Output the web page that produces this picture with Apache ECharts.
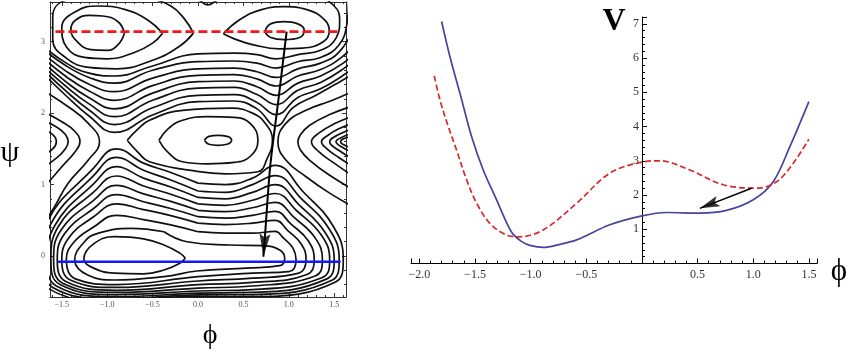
<!DOCTYPE html>
<html><head><meta charset="utf-8">
<script src="https://cdn.jsdelivr.net/npm/echarts@6/dist/echarts.min.js"></script>
<style>html,body{margin:0;padding:0;background:#fff}#c{width:850px;height:354px}</style>
</head><body><div id="c"></div>
<script>
// ---- tick labels ----
const leftPhiTicks = [-1.5, -1.0, -0.5, 0.0, 0.5, 1.0, 1.5];
const leftPsiTicks = [0, 1, 2, 3];
const rightPhiTicks = [-2.0, -1.5, -1.0, -0.5, 0.5, 1.0, 1.5];
const rightVTicks = [1, 2, 3, 4, 5, 6, 7];

// ---- left panel: contour lines [phi, psi] ----
const basinB1 = [[-0.14,-0.03],[-0.2,0.04],[-0.375,0.154],[-0.6,0.24],[-0.92,0.27],[-1.15,0.17],[-1.257,-0.04],[-1.15,-0.17],[-0.92,-0.24],[-0.6,-0.25],[-0.375,-0.196],[-0.2,-0.1],[-0.14,-0.03]];
const basinB2 = [[-0.375,0.34],[-0.12,0.2],[0.353,0.154],[0.718,0.144],[0.9,0.084],[0.955,-0.03],[0.9,-0.135],[0.535,-0.17],[-0.01,-0.21],[-0.375,-0.29],[-0.92,-0.336],[-1.21,-0.27],[-1.358,-0.056],[-1.25,0.2],[-1.104,0.317],[-0.74,0.387],[-0.375,0.34]];
const basinB3 = [[0,0.34],[0.3,0.32],[0.6,0.32],[0.85,0.345],[0.942,0.25],[1.046,0.11],[1.08,-0.05],[1.0,-0.22],[0.6,-0.24],[0,-0.29],[-0.9,-0.40],[-1.35,-0.32],[-1.45,-0.05],[-1.37,0.19],[-1.15,0.405],[-0.9,0.57],[-0.6,0.51],[-0.3,0.435],[0,0.34]];
const basinB4 = [[0,0.46],[0.3,0.44],[0.6,0.46],[0.85,0.50],[0.986,0.36],[1.139,0.165],[1.19,-0.05],[1.11,-0.24],[0.6,-0.31],[0,-0.35],[-0.9,-0.44],[-1.40,-0.34],[-1.50,-0.05],[-1.42,0.26],[-1.15,0.55],[-0.9,0.73],[-0.6,0.65],[-0.3,0.565],[0,0.46]];
const basinB5 = [[0,0.55],[0.3,0.53],[0.6,0.57],[0.85,0.625],[1.022,0.45],[1.216,0.21],[1.28,-0.05],[1.20,-0.26],[0.6,-0.37],[0,-0.40],[-0.9,-0.48],[-1.45,-0.36],[-1.55,-0.05],[-1.47,0.31],[-1.15,0.665],[-0.9,0.86],[-0.6,0.76],[-0.3,0.665],[0,0.55]];
const basinB6 = [[0,0.64],[0.3,0.62],[0.6,0.675],[0.85,0.75],[1.058,0.54],[1.292,0.25],[1.37,-0.05],[1.29,-0.28],[0.6,-0.42],[0,-0.45],[-0.9,-0.51],[-1.49,-0.38],[-1.59,-0.05],[-1.51,0.36],[-1.15,0.78],[-0.9,0.99],[-0.6,0.87],[-0.3,0.765],[0,0.64]];
const basinB7 = [[0,0.73],[0.3,0.71],[0.6,0.78],[0.85,0.875],[1.09,0.63],[1.36,0.29],[1.45,-0.05],[1.37,-0.30],[0.6,-0.47],[0,-0.49],[-0.9,-0.54],[-1.52,-0.40],[-1.62,-0.05],[-1.54,0.41],[-1.15,0.895],[-0.9,1.12],[-0.6,0.98],[-0.3,0.865],[0,0.73]];
const basinB8 = [[0,0.82],[0.3,0.80],[0.6,0.89],[0.85,1.0],[1.11,0.72],[1.40,0.33],[1.50,-0.05],[1.42,-0.32],[0.6,-0.51],[0,-0.52],[-0.9,-0.57],[-1.56,-0.42],[-1.66,-0.05],[-1.58,0.42],[-1.15,1.01],[-0.9,1.25],[-0.6,1.09],[-0.3,0.965],[0,0.82]];
const basinB9 = [[0,0.91],[0.3,0.89],[0.6,1.0],[0.85,1.125],[1.132,0.81],[1.449,0.37],[1.555,-0.05],[1.475,-0.34],[0.6,-0.54],[0,-0.545],[-0.9,-0.60],[-1.60,-0.44],[-1.70,-0.05],[-1.62,0.45],[-1.15,1.125],[-0.9,1.38],[-0.6,1.20],[-0.3,1.065],[0,0.91]];
const basinB10 = [[0,1.02],[0.3,1.0],[0.6,1.09],[0.85,1.27],[1.15,0.91],[1.4875,0.42],[1.60,-0.05],[1.52,-0.36],[0.6,-0.57],[0,-0.565],[-0.9,-0.63],[-1.64,-0.46],[-1.74,-0.05],[-1.66,0.48],[-1.15,1.23],[-0.9,1.50],[-0.6,1.30],[-0.3,1.17],[0,1.02]];

const topT1L = [[-0.81,3.12],[-0.88,3.28],[-1.05,3.36],[-1.2,3.37],[-1.35,3.3],[-1.40,3.17],[-1.33,3.0],[-1.18,2.89],[-1.0,2.88],[-0.88,2.96],[-0.81,3.12]];
const topT2L = [[-0.39,3.12],[-0.55,3.3],[-0.8,3.45],[-1.1,3.50],[-1.35,3.42],[-1.5,3.2],[-1.45,2.93],[-1.25,2.78],[-1.0,2.76],[-0.7,2.85],[-0.5,2.98],[-0.39,3.12]];
const topT3L = [[-0.05,3.12],[-0.15,3.32],[-0.3,3.5],[-0.55,3.6],[-1.0,3.63],[-1.45,3.58],[-1.6,3.35],[-1.6,3.03],[-1.45,2.77],[-1.2,2.64],[-0.9,2.62],[-0.5,2.74],[-0.2,2.94],[-0.05,3.12]];
const topT1R = [[0.735,3.14],[0.8,3.25],[0.95,3.28],[1.1,3.25],[1.17,3.16],[1.12,3.06],[0.95,3.03],[0.8,3.06],[0.735,3.14]];
const topT2R = [[0.28,3.11],[0.45,3.3],[0.7,3.45],[0.95,3.49],[1.2,3.45],[1.4,3.3],[1.446,3.15],[1.38,3.0],[1.15,2.91],[0.9,2.9],[0.6,2.96],[0.4,3.04],[0.28,3.11]];
const topT4 = [[-1.75,2.98],[-1.45,2.70],[-1.2,2.56],[-0.92,2.52],[-0.5,2.66],[0,2.83],[0.4,2.84],[0.65,2.82],[0.86,2.76],[1.1,2.82],[1.35,2.88],[1.52,3.05],[1.56,3.3],[1.5,3.5],[1.3,3.62],[0.6,3.63],[0.22,3.58],[0.11,3.515],[0.0,3.58],[-0.5,3.65]];
const topT5 = [[-1.75,2.94],[-1.45,2.66],[-1.2,2.50],[-0.92,2.42],[-0.5,2.60],[0,2.72],[0.4,2.73],[0.65,2.70],[0.86,2.63],[1.1,2.72],[1.35,2.78],[1.55,2.95],[1.64,3.25],[1.66,3.6]];
const topT6 = [[-1.75,2.88],[-1.45,2.585],[-1.2,2.405],[-0.92,2.30],[-0.5,2.49],[0,2.62],[0.4,2.63],[0.65,2.58],[0.86,2.50],[1.1,2.62],[1.35,2.70],[1.55,2.85],[1.72,3.2]];
const topT7 = [[-1.75,2.82],[-1.45,2.51],[-1.2,2.31],[-0.92,2.18],[-0.5,2.385],[0,2.53],[0.4,2.54],[0.65,2.48],[0.86,2.38],[1.1,2.52],[1.35,2.61],[1.58,2.78],[1.75,3.0]];
const topT8 = [[-1.75,2.76],[-1.45,2.435],[-1.2,2.215],[-0.92,2.06],[-0.5,2.28],[0,2.44],[0.4,2.45],[0.65,2.37],[0.86,2.25],[1.1,2.42],[1.35,2.52],[1.6,2.70],[1.75,2.88]];
const topT9 = [[-1.75,2.71],[-1.45,2.37],[-1.2,2.13],[-0.92,1.95],[-0.5,2.18],[0,2.35],[0.4,2.36],[0.65,2.26],[0.86,2.12],[1.1,2.32],[1.35,2.43],[1.6,2.62],[1.75,2.78]];
const topT10 = [[-1.75,2.66],[-1.45,2.305],[-1.2,2.045],[-0.92,1.84],[-0.5,2.075],[0,2.25],[0.4,2.26],[0.65,2.15],[0.86,1.98],[1.1,2.22],[1.35,2.34],[1.6,2.53],[1.75,2.67]];
const topT11 = [[-1.75,2.61],[-1.45,2.24],[-1.2,1.96],[-0.92,1.73],[-0.5,1.975],[0,2.16],[0.4,2.17],[0.65,2.06],[0.86,1.82],[1.05,2.08],[1.3,2.25],[1.55,2.43],[1.75,2.58]];

const hillE1 = [[0.07,1.62],[0.12,1.675],[0.22,1.69],[0.32,1.675],[0.37,1.62],[0.32,1.565],[0.22,1.55],[0.12,1.565],[0.07,1.62]];
const hillE2 = [[-0.43,1.62],[-0.33,1.78],[-0.17,1.9],[0.1,1.95],[0.4,1.94],[0.58,1.85],[0.66,1.62],[0.58,1.40],[0.4,1.31],[0.1,1.29],[-0.17,1.32],[-0.33,1.45],[-0.43,1.62]];
const hillE3 = [[-0.78,1.62],[-0.66,1.78],[-0.535,1.9],[-0.17,2.04],[0.375,2.07],[0.6,2.0],[0.74,1.86],[0.82,1.62],[0.76,1.36],[0.66,1.18],[0.3,1.15],[0.01,1.18],[-0.535,1.32],[-0.66,1.45],[-0.78,1.62]];

const edgeL1 = [[-1.75,2.35],[-1.43,2.09],[-1.21,1.86],[-1.085,1.6],[-1.21,1.34],[-1.43,1.02],[-1.58,0.69],[-1.7,0.45]];
const edgeL2 = [[-1.75,2.05],[-1.5,1.88],[-1.36,1.75],[-1.30,1.6],[-1.36,1.45],[-1.5,1.25],[-1.7,0.95]];
const edgeL3 = [[-1.75,1.92],[-1.55,1.8],[-1.46,1.7],[-1.43,1.6],[-1.46,1.5],[-1.55,1.38],[-1.75,1.2]];
const edgeL4 = [[-1.75,1.8],[-1.6,1.7],[-1.56,1.6],[-1.6,1.5],[-1.75,1.38]];
const edgeR1 = [[1.75,2.33],[1.48,2.18],[1.19,2.04],[0.97,1.86],[0.88,1.6],[0.97,1.34],[1.19,1.11],[1.45,0.88],[1.75,0.66]];
const edgeR2 = [[1.75,2.12],[1.45,1.98],[1.23,1.83],[1.13,1.7],[1.10,1.6],[1.13,1.48],[1.23,1.34],[1.45,1.13],[1.75,0.9]];
const edgeR3 = [[1.75,1.98],[1.5,1.85],[1.33,1.72],[1.25,1.6],[1.33,1.46],[1.5,1.3],[1.75,1.08]];
const edgeR4 = [[1.75,1.88],[1.55,1.78],[1.42,1.68],[1.36,1.6],[1.42,1.5],[1.55,1.38],[1.75,1.22]];
const edgeR5 = [[1.75,1.8],[1.55,1.7],[1.45,1.6],[1.55,1.48],[1.75,1.33]];
const edgeR6 = [[1.75,1.74],[1.58,1.66],[1.52,1.6],[1.58,1.53],[1.75,1.42]];
const edgeR7 = [[1.75,1.7],[1.6,1.64],[1.57,1.6],[1.6,1.56],[1.75,1.48]];

// slices and path on the left panel
const redSlice = [[-1.57,3.1416],[1.57,3.1416]];
const blueSlice = [[-1.54,-0.08],[1.57,-0.08]];
const pathLeft = [[0.976,3.14],[0.885,2.18],[0.795,1.25],[0.74,0.32],[0.72,-0.01]];

// ---- right panel: V(phi) along the two slices ----
const potBlue = [[-1.80,7.07],[-1.725,6.04],[-1.635,4.97],[-1.53,3.70],[-1.426,2.73],[-1.305,1.85],[-1.21,1.15],[-1.156,0.85],[-1.08,0.64],[-1.006,0.53],[-0.887,0.47],[-0.737,0.56],[-0.587,0.69],[-0.288,1.13],[0,1.39],[0.222,1.49],[0.52,1.47],[0.76,1.55],[1.0,1.86],[1.18,2.39],[1.33,3.42],[1.50,4.73]];
const potRed = [[-1.866,5.48],[-1.815,4.78],[-1.74,4.0],[-1.665,3.31],[-1.575,2.44],[-1.485,1.76],[-1.366,1.17],[-1.216,0.83],[-1.11,0.78],[-0.887,0.98],[-0.587,1.76],[-0.288,2.64],[0,2.96],[0.162,3.0],[0.43,2.73],[0.73,2.3],[1.03,2.2],[1.21,2.39],[1.36,2.93],[1.5,3.63]];
const pathRight = [[0.985,2.2],[0.52,1.61]];

const contours = [basinB1,basinB2,basinB3,basinB4,basinB5,basinB6,basinB7,basinB8,basinB9,basinB10,
  topT1L,topT2L,topT3L,topT1R,topT2R,topT4,topT5,topT6,topT7,topT8,topT9,topT10,topT11,
  hillE1,hillE2,hillE3,edgeL1,edgeL2,edgeL3,edgeL4,edgeR1,edgeR2,edgeR3,edgeR4,edgeR5,edgeR6,edgeR7];

const SERIF = '"Liberation Serif","DejaVu Serif",serif';
function pick(list, v, dec) {
  const t = list.find(t => Math.abs(t - v) < 1e-6);
  if (t === undefined) return '';
  const s = Math.abs(t).toFixed(dec);
  return (t < 0 ? '\u2212' : '') + s;
}
const frameLine = {show:true, onZero:false, lineStyle:{color:'#333', width:1}};
const frameTick = {show:true, inside:true, length:4, lineStyle:{color:'#333', width:1}};
const frameMinor = {show:true, splitNumber:5, length:2, lineStyle:{color:'#333', width:1}};

const chart = echarts.init(document.getElementById('c'), null, {renderer:'canvas'});
const series = contours.map(d => ({
  type:'line', xAxisIndex:0, yAxisIndex:0, data:d, symbol:'none', smooth:0.45,
  lineStyle:{color:'#111', width:1.7}, silent:true, z:2, animation:false
}));
series.push(
  {type:'line', xAxisIndex:0, yAxisIndex:0, data:blueSlice, symbol:'none',
   lineStyle:{color:'#1414ff', width:2.6}, silent:true, z:3},
  {type:'line', xAxisIndex:0, yAxisIndex:0, data:redSlice, symbol:'none',
   lineStyle:{color:'#f01818', width:2.6, type:[9,4]}, silent:true, z:3},
  {type:'line', xAxisIndex:0, yAxisIndex:0, data:pathLeft, symbol:'none', smooth:0.3,
   lineStyle:{color:'#000', width:2}, silent:true, z:4},
  {type:'scatter', xAxisIndex:0, yAxisIndex:0, data:[pathLeft[pathLeft.length-1]],
   symbol:'path://M0,0 L6,4 L12,0 L6,24 Z', symbolSize:[11,23], symbolRotate:-4, symbolOffset:[0.8,-11.5],
   itemStyle:{color:'#000'}, silent:true, z:5},
  {type:'line', xAxisIndex:2, yAxisIndex:2, data:potBlue, symbol:'none', smooth:0.35,
   lineStyle:{color:'#45459a', width:1.7}, silent:true, z:2},
  {type:'line', xAxisIndex:2, yAxisIndex:2, data:potRed, symbol:'none', smooth:0.35,
   lineStyle:{color:'#d8282a', width:1.7, type:[6,3]}, silent:true, z:2},
  {type:'line', xAxisIndex:2, yAxisIndex:2, data:pathRight, symbol:'none',
   lineStyle:{color:'#000', width:1.5}, silent:true, z:4},
  {type:'scatter', xAxisIndex:2, yAxisIndex:2, data:[pathRight[1]],
   symbol:'path://M24,0 L19,6 L24,12 L0,6 Z', symbolSize:[20,11], symbolRotate:21, symbolOffset:[9.3,-3.6],
   itemStyle:{color:'#000'}, silent:true, z:5}
);

chart.setOption({
  animation:false,
  backgroundColor:'#fff',
  grid:[
    {left:50, top:2, width:296, height:295, containLabel:false, outerBoundsMode:'none'},
    {left:411, top:17, width:406, height:246.5, containLabel:false, outerBoundsMode:'none'}
  ],
  xAxis:[
    {gridIndex:0, type:'value', min:-1.63, max:1.63, splitNumber:6, position:'bottom',
     axisLine:frameLine, axisTick:frameTick, minorTick:frameMinor, splitLine:{show:false}, minorSplitLine:{show:false},
     axisLabel:{show:true, margin:4, fontFamily:SERIF, fontSize:8, color:'#555', showMinLabel:false, showMaxLabel:false,
       formatter:v => pick(leftPhiTicks, v, 1)}},
    {gridIndex:0, type:'value', min:-1.63, max:1.63, splitNumber:6, position:'top',
     axisLine:frameLine, axisTick:frameTick, minorTick:frameMinor, splitLine:{show:false}, axisLabel:{show:false}},
    {gridIndex:1, type:'value', min:-2.075, max:1.573, splitNumber:7, position:'bottom',
     axisLine:{show:true, onZero:false, lineStyle:{color:'#000', width:1}},
     axisTick:{show:true, inside:true, length:5, lineStyle:{color:'#000'}},
     minorTick:{show:true, splitNumber:5, length:3, lineStyle:{color:'#000'}},
     splitLine:{show:false},
     axisLabel:{show:true, margin:5, fontFamily:SERIF, fontSize:12, color:'#333', showMinLabel:false, showMaxLabel:false,
       formatter:v => pick(rightPhiTicks, v, 1)}}
  ],
  yAxis:[
    {gridIndex:0, type:'value', min:-0.574, max:3.556, splitNumber:4, position:'left',
     axisLine:frameLine, axisTick:frameTick, minorTick:frameMinor, splitLine:{show:false},
     axisLabel:{show:true, margin:5, fontFamily:SERIF, fontSize:8, color:'#555', showMinLabel:false, showMaxLabel:false,
       formatter:v => pick(leftPsiTicks, v, 0)}},
    {gridIndex:0, type:'value', min:-0.574, max:3.556, splitNumber:4, position:'right',
     axisLine:frameLine, axisTick:frameTick, minorTick:frameMinor, splitLine:{show:false}, axisLabel:{show:false}},
    {gridIndex:1, type:'value', min:0, max:7.2, interval:1, position:'left', offset:-231,
     axisLine:{show:true, onZero:false, lineStyle:{color:'#000', width:1}},
     axisTick:{show:true, inside:true, length:5, lineStyle:{color:'#000'}},
     minorTick:{show:true, splitNumber:5, length:3, lineStyle:{color:'#000'}},
     splitLine:{show:false},
     axisLabel:{show:true, margin:3, fontFamily:SERIF, fontSize:12, color:'#333', showMaxLabel:false,
       formatter:v => pick(rightVTicks, v, 0)}}
  ],
  graphic:[
    {type:'text', x:10, y:153, style:{text:'\u03C8', font:'30px ' + SERIF, fill:'#000', align:'center', verticalAlign:'middle'}},
    {type:'text', x:210, y:336, style:{text:'\u03D5', font:'28px ' + SERIF, fill:'#000', align:'center', verticalAlign:'middle'}},
    {type:'text', x:839, y:272, style:{text:'\u03D5', font:'31px ' + SERIF, fill:'#000', align:'center', verticalAlign:'middle'}},
    {type:'text', x:614, y:22, style:{text:'V', font:'bold 32px ' + SERIF, fill:'#000', align:'center', verticalAlign:'middle'}}
  ],
  series: series
});
</script>
</body></html>
